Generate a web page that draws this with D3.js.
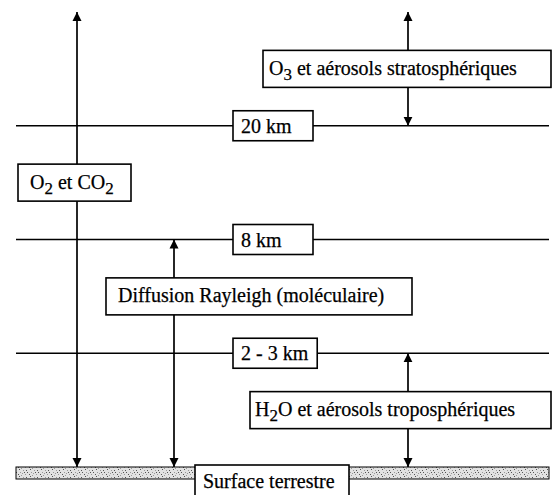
<!DOCTYPE html>
<html>
<head>
<meta charset="utf-8">
<script src="https://cdn.jsdelivr.net/npm/d3@7"></script>
<style>
  body { margin: 0; background: #fff; }
  text { font-family: "Liberation Serif", "Times New Roman", serif; fill: #000; stroke: #000; stroke-width: 0.25; }
</style>
</head>
<body>
<script>
// niveaux d'altitude (du sol vers le haut)
var levels = ["sol", "2 - 3 km", "8 km", "20 km", "haut"];
var levelLabels = ["2 - 3 km", "8 km", "20 km"];

// absorbants : libellé, niveau bas, niveau haut
var absorberNames = ["O_2 et CO_2", "Diffusion Rayleigh (moléculaire)", "H_2O et aérosols troposphériques", "O_3 et aérosols stratosphériques"];
var absorberBottom = ["sol", "sol", "sol", "20 km"];
var absorberTop = ["haut", "8 km", "2 - 3 km", "haut"];
// couche où se trouve la boîte de chaque absorbant
var boxLayerLow = ["8 km", "2 - 3 km", "sol", "20 km"];
var boxLayerHigh = ["20 km", "8 km", "2 - 3 km", "haut"];

var surfaceLabel = "Surface terrestre";

// mise en page
var width = 556, height = 495;
var lineX0 = 16, lineX1 = 549;
var arrowX = [77, 174, 408, 408];   // x de chaque flèche
var boxX = [18, 106, 250, 263];     // bord gauche de chaque boîte
var boxW = [113, 306, 301, 288];
var boxPad = [12, 12, 5, 6];
var boxH = 37;
var fontSize = 20;

var svg = d3.select("body").append("svg")
    .attr("width", width)
    .attr("height", height);

var y = d3.scalePoint().domain(levels).range([467, 12]);

// motif de la surface
var defs = svg.append("defs");
var pat = defs.append("pattern")
    .attr("id", "sol")
    .attr("patternUnits", "userSpaceOnUse")
    .attr("width", 11).attr("height", 7);
pat.append("rect").attr("width", 11).attr("height", 7).attr("fill", "#e2e2e2");
[[1,1],[5,3],[3,5],[8,0],[0,4],[7,5],[9,3],[4,1],[10,6],[2,3]].forEach(function(p, i) {
  pat.append("rect").attr("x", p[0]).attr("y", p[1]).attr("width", 1).attr("height", 1)
      .attr("fill", i % 2 ? "#555" : "#999");
});

// tête de flèche
defs.append("marker")
    .attr("id", "head")
    .attr("viewBox", "0 0 10 10")
    .attr("refX", 10).attr("refY", 5)
    .attr("markerWidth", 9).attr("markerHeight", 11)
    .attr("markerUnits", "userSpaceOnUse")
    .attr("orient", "auto")
  .append("path")
    .attr("d", "M0,0 L10,5 L0,10 z")
    .attr("fill", "#000");

// texte avec indices (O_2 -> O<sub>2</sub>)
function richText(sel, str) {
  var parts = str.split(/_(\d)/);
  parts.forEach(function(p, i) {
    if (p === "") return;
    var t = sel.append("tspan").text(p);
    if (i % 2 === 1) t.attr("baseline-shift", "-28%").attr("font-size", fontSize - 3);
  });
}

// lignes horizontales des niveaux
svg.selectAll(".level")
    .data(levelLabels)
  .enter().append("line")
    .attr("class", "level")
    .attr("x1", lineX0).attr("x2", lineX1)
    .attr("y1", function(d) { return y(d); })
    .attr("y2", function(d) { return y(d); })
    .attr("stroke", "#000")
    .attr("stroke-width", 1.4);

// surface
svg.append("rect")
    .attr("x", lineX0).attr("y", y("sol"))
    .attr("width", lineX1 - lineX0).attr("height", 12)
    .attr("fill", "url(#sol)")
    .attr("stroke", "#000")
    .attr("stroke-width", 1);

// flèches des absorbants
absorberNames.forEach(function(name, i) {
  var yb = y(absorberBottom[i]), yt = y(absorberTop[i]);
  var ym = (yb + yt) / 2;
  svg.append("line")
      .attr("x1", arrowX[i]).attr("x2", arrowX[i])
      .attr("y1", ym).attr("y2", yt)
      .attr("stroke", "#000").attr("stroke-width", 1.7)
      .attr("marker-end", "url(#head)");
  svg.append("line")
      .attr("x1", arrowX[i]).attr("x2", arrowX[i])
      .attr("y1", ym).attr("y2", yb)
      .attr("stroke", "#000").attr("stroke-width", 1.7)
      .attr("marker-end", "url(#head)");
});

// étiquettes des niveaux
levelLabels.forEach(function(d) {
  var g = svg.append("g");
  var t = g.append("text")
      .attr("x", 241).attr("y", y(d) + 7)
      .attr("font-size", fontSize)
      .text(d);
  var w = t.node().getComputedTextLength();
  g.insert("rect", "text")
      .attr("x", 233).attr("y", y(d) - 15)
      .attr("width", Math.max(80, w + 17)).attr("height", 30)
      .attr("fill", "#fff").attr("stroke", "#000").attr("stroke-width", 1.6);
});

// boîtes des absorbants
absorberNames.forEach(function(name, i) {
  var ym = (y(boxLayerLow[i]) + y(boxLayerHigh[i])) / 2;
  var g = svg.append("g");
  g.append("rect")
      .attr("x", boxX[i]).attr("y", ym - boxH / 2)
      .attr("width", boxW[i]).attr("height", boxH)
      .attr("fill", "#fff").attr("stroke", "#000").attr("stroke-width", 1.6);
  var t = g.append("text")
      .attr("x", boxX[i] + boxPad[i]).attr("y", ym + 6)
      .attr("font-size", fontSize);
  richText(t, name);
});

// étiquette de la surface
svg.append("rect")
    .attr("x", 195).attr("y", 465)
    .attr("width", 154).attr("height", 40)
    .attr("fill", "#fff").attr("stroke", "#000").attr("stroke-width", 1.6);
svg.append("text")
    .attr("x", 203).attr("y", 488)
    .attr("font-size", fontSize)
    .text(surfaceLabel);
</script>
</body>
</html>
